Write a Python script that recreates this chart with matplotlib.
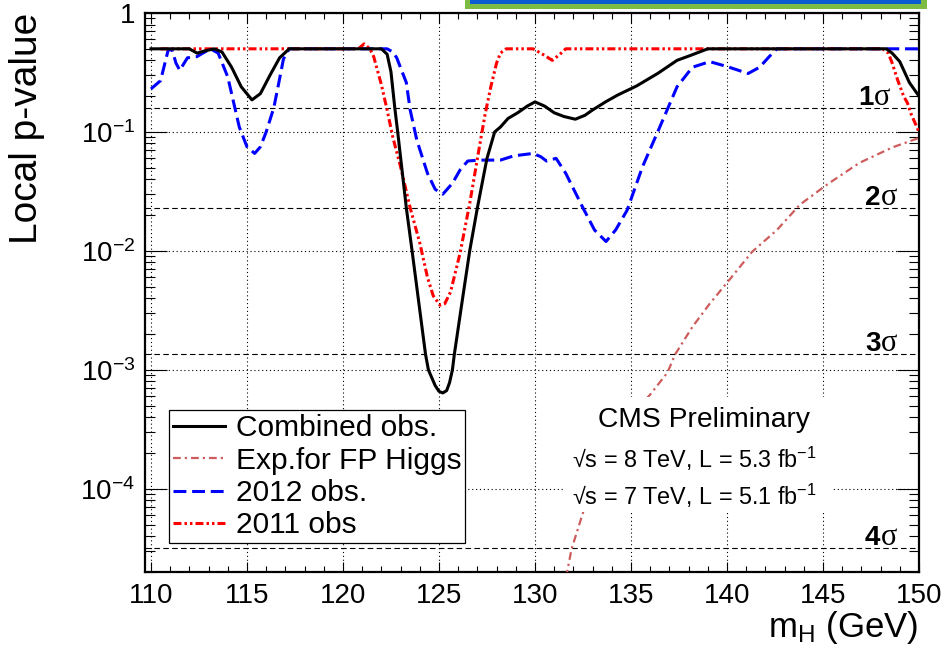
"""
Local p-value versus Higgs mass, CMS style.
"""

import numpy as np
import matplotlib.pyplot as plt
from matplotlib.patches import Rectangle
from matplotlib.ticker import FixedLocator, MultipleLocator, LogLocator, NullFormatter

plt.rcParams['font.family'] = 'Liberation Sans'
plt.rcParams['mathtext.fontset'] = 'custom'
plt.rcParams['mathtext.rm'] = 'Liberation Sans'
plt.rcParams['mathtext.it'] = 'Liberation Sans:italic'
plt.rcParams['mathtext.bf'] = 'Liberation Sans:bold'

# combined observed
comb_m = [110.0, 112.0, 112.4, 112.8, 113.3, 113.7, 114.2, 114.7, 115.26, 115.7, 116.2,
          116.7, 117.2, 122.0, 122.3, 122.5, 122.7, 122.85, 123.3, 123.6, 124.3, 124.45,
          124.8, 125.0, 125.2, 125.4, 125.55, 125.7, 125.8, 126.2, 126.6, 127.0, 127.5,
          127.9, 128.2, 128.6, 129.1, 129.6, 130.0, 130.5, 131.0, 131.5, 132.1, 132.6,
          133.0, 133.7, 134.3, 135.3, 136.4, 137.4, 138.1, 139.0, 148.3, 148.6, 149.0,
          149.5, 150.0]
comb_p = [0.5, 0.5, 0.46, 0.48, 0.5, 0.47, 0.35, 0.24, 0.186, 0.21, 0.30,
          0.42, 0.5, 0.5, 0.45, 0.32, 0.159, 0.1, 0.023, 0.01, 1.35e-3, 1e-3,
          7.4e-4, 6.6e-4, 6.4e-4, 6.7e-4, 7.8e-4, 1e-3, 1.35e-3, 3.7e-3, 0.01, 0.023, 0.06,
          0.1, 0.11, 0.13, 0.145, 0.165, 0.179, 0.165, 0.145, 0.135, 0.128, 0.138,
          0.153, 0.18, 0.204, 0.244, 0.311, 0.40, 0.44, 0.5, 0.5, 0.46, 0.39,
          0.26, 0.2]

# expected for fermiophobic Higgs
exp_m = [131.6, 131.7, 131.9, 132.5, 133.0, 134.0, 135.0, 136.0, 136.9, 137.3, 138.2,
         139.1, 140.0, 141.3, 142.6, 143.8, 145.2, 146.0, 146.9, 148.6, 149.9, 150.0]
exp_p = [1.8e-5, 2.1e-5, 3.1e-5, 6.3e-5, 1.05e-4, 2.3e-4, 4.1e-4, 6.2e-4, 9.5e-4, 1.35e-3, 2.3e-3,
         3.6e-3, 5.4e-3, 9.8e-3, 0.015, 0.0245, 0.036, 0.044, 0.055, 0.074, 0.088, 0.089]

# 2012 observed
obs12_m = [110.0, 110.5, 110.9, 111.1, 111.3, 111.5, 111.9, 112.4, 112.6, 113.1, 113.5,
           114.0, 114.6, 115.0, 115.4, 115.7, 116.0, 116.4, 116.7, 116.9, 117.2, 122.3,
           122.6, 122.8, 123.3, 123.5, 123.85, 124.4, 124.8, 125.2, 125.7, 126.1, 126.5,
           127.1, 128.2, 128.9, 129.9, 130.3, 130.6, 131.1, 131.6, 132.5, 133.1, 133.7,
           134.2, 134.8, 135.6, 136.5, 137.4, 138.2, 139.1, 140.0, 141.1, 141.7, 142.2,
           142.6, 150.0]
obs12_p = [0.23, 0.27, 0.49, 0.49, 0.38, 0.33, 0.42, 0.43, 0.45, 0.5, 0.46,
           0.29, 0.11, 0.075, 0.066, 0.075, 0.1, 0.16, 0.28, 0.41, 0.5, 0.5,
           0.47, 0.42, 0.26, 0.153, 0.085, 0.045, 0.033, 0.03, 0.037, 0.048, 0.057,
           0.058, 0.058, 0.063, 0.066, 0.062, 0.057, 0.06, 0.045, 0.023, 0.015, 0.012,
           0.015, 0.022, 0.051, 0.11, 0.24, 0.35, 0.39, 0.355, 0.31, 0.35, 0.43,
           0.5, 0.5]

# 2011 observed
obs11_m = [110.5, 120.8, 121.1, 121.4, 121.6, 122.0, 122.3, 122.6, 123.0, 123.5, 124.0,
           124.4, 124.7, 125.05, 125.3, 125.6, 126.1, 126.6, 127.1, 127.4, 127.7, 128.0,
           128.2, 128.5, 129.9, 130.4, 130.9, 131.3, 131.6, 148.1, 148.4, 148.6, 148.9,
           149.2, 149.4, 149.6, 150.0]
obs11_p = [0.5, 0.5, 0.55, 0.5, 0.43, 0.25, 0.153, 0.09, 0.051, 0.023, 0.0117,
           6e-3, 4.2e-3, 3.5e-3, 3.6e-3, 4.5e-3, 9.6e-3, 0.025, 0.074, 0.14, 0.24, 0.38,
           0.46, 0.5, 0.5, 0.45, 0.40, 0.45, 0.5, 0.5, 0.46, 0.38, 0.27,
           0.2, 0.175, 0.14, 0.1]

sigma_names = ['1', '2', '3', '4']
sigma_p = [0.1587, 0.02275, 1.35e-3, 3.17e-5]
sigma_x = [146.82, 147.19, 147.19, 147.19]

ytick_vals = [1e-4, 1e-3, 1e-2, 1e-1, 1]
ytick_labels = ['$10^{-4}$', '$10^{-3}$', '$10^{-2}$', '$10^{-1}$', '1']

fig = plt.figure(figsize=(9.45, 6.49), dpi=100)
ax = fig.add_axes([145 / 945, 1 - 572 / 649, 774 / 945, 559 / 649])

ax.plot(exp_m, exp_p, color='#cd5c5c', lw=1.6, dashes=(3.5, 1.8, 1, 1.8), label='Exp.for FP Higgs', zorder=3)
ax.plot(obs12_m, obs12_p, color='#0000ff', lw=2.2, dashes=(4.2, 1.9), label='2012 obs.', zorder=3)
ax.plot(obs11_m, obs11_p, color='#ff0000', lw=2.2, dashes=(2.6, 1, 0.8, 1, 0.8, 1), label='2011 obs', zorder=3)
ax.plot(comb_m, comb_p, color='black', lw=2.2, label='Combined obs.', zorder=3.5)

# significance lines
for name, p, x in zip(sigma_names, sigma_p, sigma_x):
    ax.axhline(p, color='black', lw=0.8, dashes=(5, 3), zorder=2)
    ax.annotate(name, xy=(x, p), xytext=(0, 2.5), textcoords='offset points',
                fontsize=20, fontweight='bold', ha='left', va='baseline')
    ax.annotate('σ', xy=(x, p), xytext=(11.5, 2.5), textcoords='offset points',
                fontsize=22, family='Liberation Serif', ha='left', va='baseline')

ax.set_yscale('log')
ax.set_xlim(109.69, 150)
ax.set_ylim(2e-5, 1)

ax.xaxis.set_major_locator(MultipleLocator(5))
ax.xaxis.set_minor_locator(MultipleLocator(1))
ax.yaxis.set_major_locator(FixedLocator(ytick_vals))
ax.set_yticklabels(ytick_labels)
ax.yaxis.set_minor_locator(LogLocator(base=10, subs=np.arange(2, 10)))
ax.yaxis.set_minor_formatter(NullFormatter())

ax.tick_params(which='both', direction='in', top=True, right=True, width=0.8, labelsize=20)
ax.tick_params(axis='x', which='major', length=7, pad=8)
ax.tick_params(axis='x', which='minor', length=4.5)
ax.tick_params(axis='y', which='major', length=16, pad=7)
ax.tick_params(axis='y', which='minor', length=7)

ax.grid(True, which='major', color='black', lw=0.8, ls=(0, (1, 2.5)))
for s in ax.spines.values():
    s.set_linewidth(1.6)

leg = ax.legend(handles=[ax.lines[3], ax.lines[0], ax.lines[1], ax.lines[2]],
                loc='upper left', bbox_to_anchor=(0.031, 0.289), borderaxespad=0,
                fontsize=21.5, frameon=True, fancybox=False, edgecolor='black',
                framealpha=1, handlelength=1.77, handletextpad=0.35,
                labelspacing=0.15, borderpad=0.12)
leg.get_frame().set_linewidth(0.9)

# white pave behind the CMS label
ax.add_patch(Rectangle((0.543, 0.107), 0.345, 0.206, transform=ax.transAxes,
                       facecolor='white', edgecolor='none', zorder=4))
ax.text(0.722, 0.259, 'CMS Preliminary', transform=ax.transAxes, fontsize=20.3,
        ha='center', va='baseline', zorder=5)
ax.text(0.710, 0.186, '√s = 8 TeV, L = 5.3 fb$^{-1}$', transform=ax.transAxes, fontsize=16.8,
        ha='center', va='baseline', zorder=5)
ax.text(0.710, 0.120, '√s = 7 TeV, L = 5.1 fb$^{-1}$', transform=ax.transAxes, fontsize=16.8,
        ha='center', va='baseline', zorder=5)

fig.text(27 / 945, 1 - 13 / 649, 'Local p-value', rotation=90, ha='center', va='top', fontsize=28)
fig.text(918 / 945, 1 - 637 / 649, r'm$_{\mathrm{H}}$ (GeV)', ha='right', va='baseline', fontsize=25)

# banner strip cut off at the top
fig.patches.append(Rectangle((465 / 945, 1 - 9 / 649), 462 / 945, 9 / 649, transform=fig.transFigure,
                             facecolor='#7cbc42', edgecolor='none'))
fig.patches.append(Rectangle((470 / 945, 1 - 4 / 649), 451 / 945, 4 / 649, transform=fig.transFigure,
                             facecolor='#0a5cd0', edgecolor='none'))

fig.savefig('out.png', dpi=100)
